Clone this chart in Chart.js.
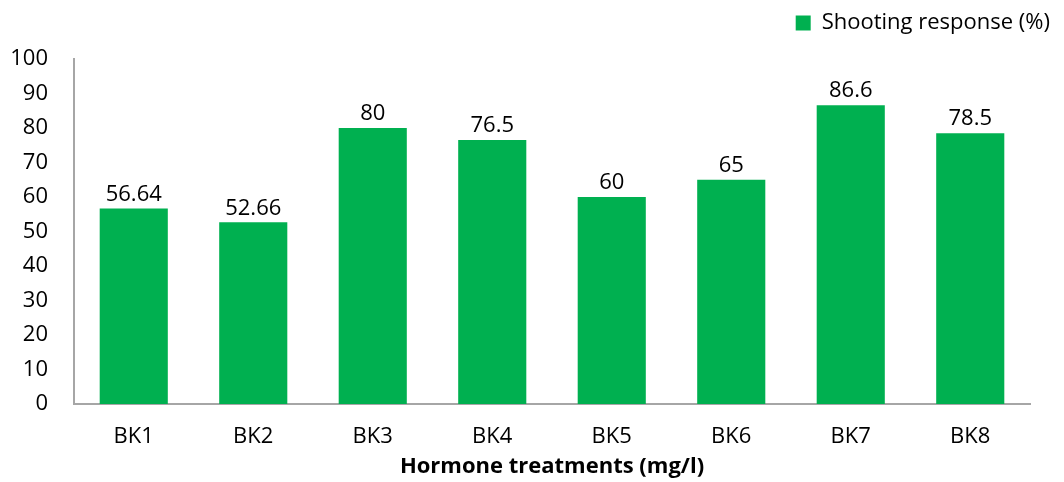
<!DOCTYPE html>
<html>
<head>
<meta charset="utf-8">
<script src="https://cdn.jsdelivr.net/npm/chart.js@4"></script>
<style>
  html, body { margin: 0; padding: 0; background: #fff; }
  #wrap { width: 1064px; height: 482px; }
</style>
</head>
<body>
<div id="wrap"><canvas id="chart" width="1064" height="482"></canvas></div>
<script>
const categories = ["BK1", "BK2", "BK3", "BK4", "BK5", "BK6", "BK7", "BK8"];
const shooting = [56.64, 52.66, 80, 76.5, 60, 65, 86.6, 78.5];
const seriesName = "Shooting response (%)";

const FONT = "'Open Sans', Lato, sans-serif";
const SIZE = 22;

// value labels above each bar
const barLabels = {
  id: "barLabels",
  afterDatasetsDraw(chart) {
    const ctx = chart.ctx;
    const meta = chart.getDatasetMeta(0);
    ctx.save();
    ctx.font = SIZE + "px " + FONT;
    ctx.fillStyle = "#000";
    ctx.textAlign = "center";
    ctx.textBaseline = "bottom";
    meta.data.forEach((bar, i) => {
      ctx.fillText(String(shooting[i]), bar.x, bar.y - 3);
    });
    ctx.restore();
  },
};

// extra gap between legend and plot
const legendGap = {
  id: "legendGap",
  beforeInit(chart) {
    const fit = chart.legend.fit;
    chart.legend.fit = function () {
      fit.call(this);
      this.height += 15;
    };
  },
};

new Chart(document.getElementById("chart"), {
  type: "bar",
  data: {
    labels: categories,
    datasets: [
      {
        label: seriesName,
        data: shooting,
        backgroundColor: "#00b050",
        categoryPercentage: 1,
        barPercentage: 0.57,
      },
    ],
  },
  options: {
    responsive: false,
    animation: false,
    layout: { padding: { left: 0, right: 2, top: 0, bottom: 2 } },
    plugins: {
      legend: {
        position: "top",
        align: "end",
        labels: {
          boxWidth: 15,
          boxHeight: 15,
          color: "#000",
          font: { family: FONT, size: SIZE },
          padding: 12,
        },
      },
      tooltip: { enabled: false },
    },
    scales: {
      x: {
        afterFit(scale) { scale.height = 76; },
        grid: { display: false, drawTicks: false },
        border: { color: "#a6a6a6", width: 2 },
        ticks: { color: "#000", font: { family: FONT, size: SIZE }, padding: 20 },
        title: {
          display: true,
          text: "Hormone treatments (mg/l)",
          color: "#000",
          font: { family: FONT, size: SIZE, weight: "bold" },
          padding: { top: 0, bottom: 0 },
        },
      },
      y: {
        min: 0,
        max: 100,
        afterFit(scale) { scale.width = 74; },
        grid: { display: false, drawTicks: false },
        border: { color: "#a6a6a6", width: 2 },
        ticks: { stepSize: 10, color: "#000", font: { family: FONT, size: SIZE }, padding: 26 },
      },
      // empty right margin
      yRight: {
        position: "right",
        min: 0,
        max: 100,
        afterFit(scale) { scale.width = 32; },
        grid: { display: false, drawTicks: false },
        border: { display: false },
        ticks: { display: false },
      },
    },
  },
  plugins: [barLabels, legendGap],
});
</script>
</body>
</html>
